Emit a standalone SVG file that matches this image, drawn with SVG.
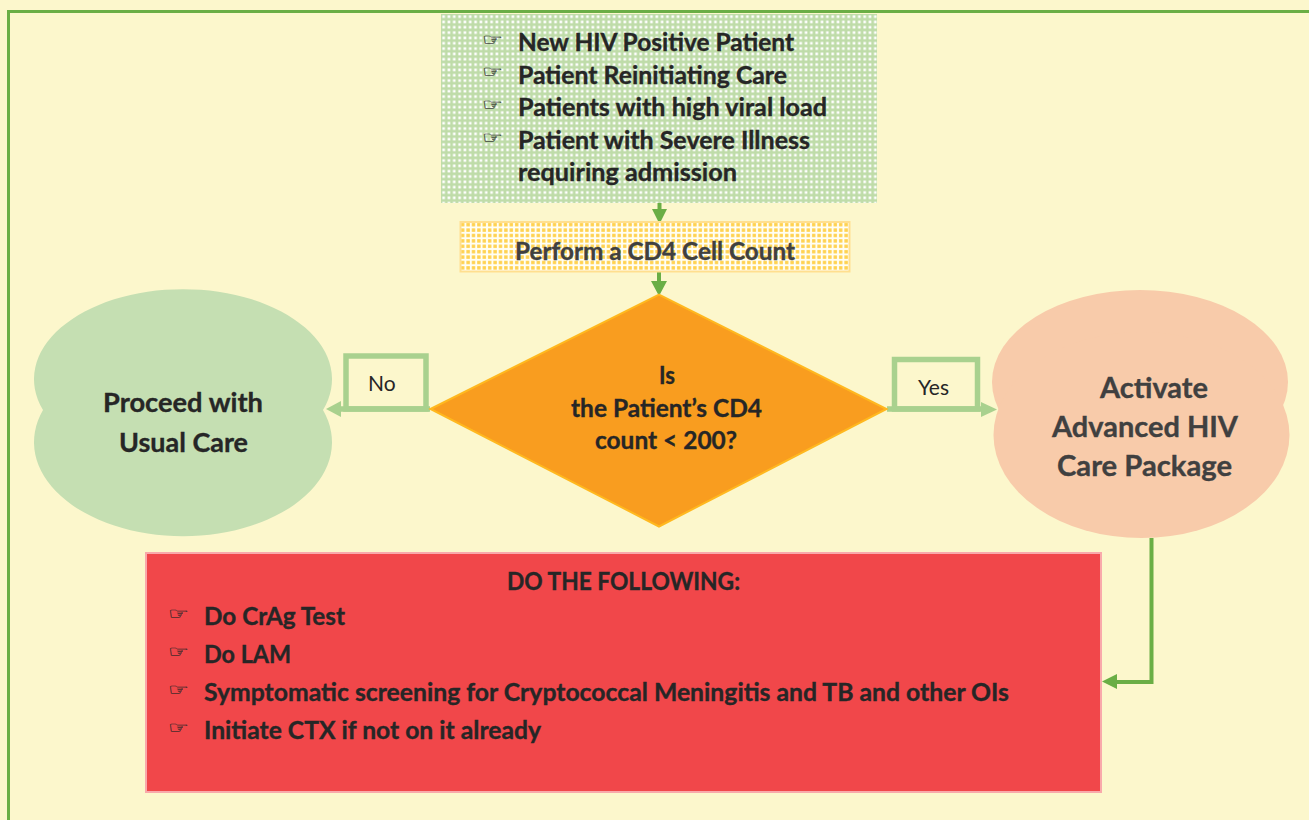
<svg xmlns="http://www.w3.org/2000/svg" width="1309" height="820" viewBox="0 0 1309 820">
<style>
.t{font-family:"Lato","Liberation Sans",sans-serif;font-weight:700;fill:#262626;stroke:#262626;stroke-width:.35}
.d{fill:#404040;stroke:#404040}
.b{font-size:24.5px}
.h{font-size:27px}
.a{font-size:29px}
.g{font-family:"DejaVu Sans",sans-serif;font-size:16px;fill:#262626;stroke:#262626;stroke-width:.15}
.l{font-family:"Lato","Liberation Sans",sans-serif;font-size:21px;fill:#262626}
.c{fill:none;stroke:#6AAE45;stroke-width:4}
.c2{fill:none;stroke:#A9D18E;stroke-width:5.5}
</style>
<defs>
<pattern id="pg" x="441" y="14" width="5.33" height="5.33" patternUnits="userSpaceOnUse"><rect width="5.4" height="5.4" fill="#BFDCA9"/><rect x="1.3" y="1.3" width="2.6" height="2.6" fill="#fff"/></pattern>
<pattern id="py" x="460" y="222" width="5.4" height="5.4" patternUnits="userSpaceOnUse"><rect width="5.5" height="5.5" fill="#FFFEF4"/><rect x="1" y="1" width="3.4" height="3.4" fill="#FFD24F"/></pattern>
</defs>
<rect width="1309" height="820" fill="#FCF7CC"/>
<rect x="8.500" y="11.500" width="1320" height="830" fill="none" stroke="#6AAE45" stroke-width="3"/>
<g id="connectors">
<path class="c" d="M659.500 203V210"/><path d="M652 209H667L659.500 224Z" fill="#6AAE45"/>
<path class="c" d="M659 271V282"/><path d="M651 281H667L659 296Z" fill="#6AAE45"/>
<path class="c" d="M1151.500 538V682H1116"/><path d="M1117 674V689L1102 681.500Z" fill="#6AAE45"/>
<path class="c2" d="M430 409H340"/><rect class="c2" x="346" y="356" width="80" height="53"/><path d="M341 401V417L326 409Z" fill="#A9D18E"/>
<path class="c2" d="M887 409H982"/><rect class="c2" x="894.500" y="359.500" width="83" height="49.500"/><path d="M981 402V417L997 409.500Z" fill="#A9D18E"/>
</g>
<g id="start"><rect x="441" y="14" width="436" height="189" fill="url(#pg)"/>
<text class="g" x="482" y="45" textLength="21" lengthAdjust="spacingAndGlyphs">☞</text><text class="t b" x="518" y="51" textLength="276" lengthAdjust="spacingAndGlyphs">New HIV Positive Patient</text>
<text class="g" x="482" y="77" textLength="21" lengthAdjust="spacingAndGlyphs">☞</text><text class="t b" x="518" y="84" textLength="269" lengthAdjust="spacingAndGlyphs">Patient Reinitiating Care</text>
<text class="g" x="482" y="110" textLength="21" lengthAdjust="spacingAndGlyphs">☞</text><text class="t b" x="518" y="116" textLength="309" lengthAdjust="spacingAndGlyphs">Patients with high viral load</text>
<text class="g" x="482" y="143" textLength="21" lengthAdjust="spacingAndGlyphs">☞</text><text class="t b" x="518" y="149" textLength="292" lengthAdjust="spacingAndGlyphs">Patient with Severe Illness</text>
<text class="t b" x="518" y="181" textLength="219" lengthAdjust="spacingAndGlyphs">requiring admission</text></g>
<g id="cd4"><rect x="460.500" y="222" width="389" height="49.500" fill="url(#py)" stroke="#FFDF8F" stroke-width="2"/>
<text class="t b d" x="515" y="260" textLength="280" lengthAdjust="spacingAndGlyphs">Perform a CD4 Cell Count</text></g>
<g id="decision"><path d="M430.500 409L659 294.500L886.500 409L659 526.500Z" fill="#F99D1F" stroke="#FFB81F" stroke-width="2"/>
<text class="t b" x="659" y="384" textLength="16" lengthAdjust="spacingAndGlyphs">Is</text>
<text class="t b" x="571" y="417" textLength="191" lengthAdjust="spacingAndGlyphs">the Patient’s CD4</text>
<text class="t b" x="595" y="449" textLength="142" lengthAdjust="spacingAndGlyphs">count &lt; 200?</text></g>
<g id="usual"><path d="M43 410A149 90 0 1 1 323 410A149 94 0 1 1 43 410Z" fill="#C5DFB2"/>
<text class="t h" x="103" y="412" textLength="160" lengthAdjust="spacingAndGlyphs">Proceed with</text>
<text class="t h" x="119" y="451.500" textLength="129" lengthAdjust="spacingAndGlyphs">Usual Care</text></g>
<g id="activate"><ellipse cx="1140" cy="382" rx="148" ry="92" fill="#F8CBAA"/><ellipse cx="1141.500" cy="435" rx="148" ry="103" fill="#F8CBAA"/>
<text class="t a d" x="1100" y="398" textLength="108" lengthAdjust="spacingAndGlyphs">Activate</text>
<text class="t a d" x="1052" y="437" textLength="186" lengthAdjust="spacingAndGlyphs">Advanced HIV</text>
<text class="t a d" x="1057" y="476" textLength="175" lengthAdjust="spacingAndGlyphs">Care Package</text></g>
<g id="no-label"><text class="l" x="368" y="391">No</text></g>
<g id="yes-label"><text class="l" x="918" y="395">Yes</text></g>
<g id="actions"><rect x="146" y="553" width="955" height="239" fill="#F1474A" stroke="#F9A9AB" stroke-width="2"/>
<text class="t b" x="507" y="590" textLength="233" lengthAdjust="spacingAndGlyphs">DO THE FOLLOWING:</text>
<text class="g" x="168" y="619" textLength="21" lengthAdjust="spacingAndGlyphs">☞</text><text class="t b" x="204" y="625" textLength="141" lengthAdjust="spacingAndGlyphs">Do CrAg Test</text>
<text class="g" x="168" y="657" textLength="21" lengthAdjust="spacingAndGlyphs">☞</text><text class="t b" x="204" y="663" textLength="87" lengthAdjust="spacingAndGlyphs">Do LAM</text>
<text class="g" x="168" y="695" textLength="21" lengthAdjust="spacingAndGlyphs">☞</text><text class="t b" x="204" y="701" textLength="805" lengthAdjust="spacingAndGlyphs">Symptomatic screening for Cryptococcal Meningitis and TB and other OIs</text>
<text class="g" x="168" y="733" textLength="21" lengthAdjust="spacingAndGlyphs">☞</text><text class="t b" x="204" y="739" textLength="337" lengthAdjust="spacingAndGlyphs">Initiate CTX if not on it already</text></g>
</svg>
